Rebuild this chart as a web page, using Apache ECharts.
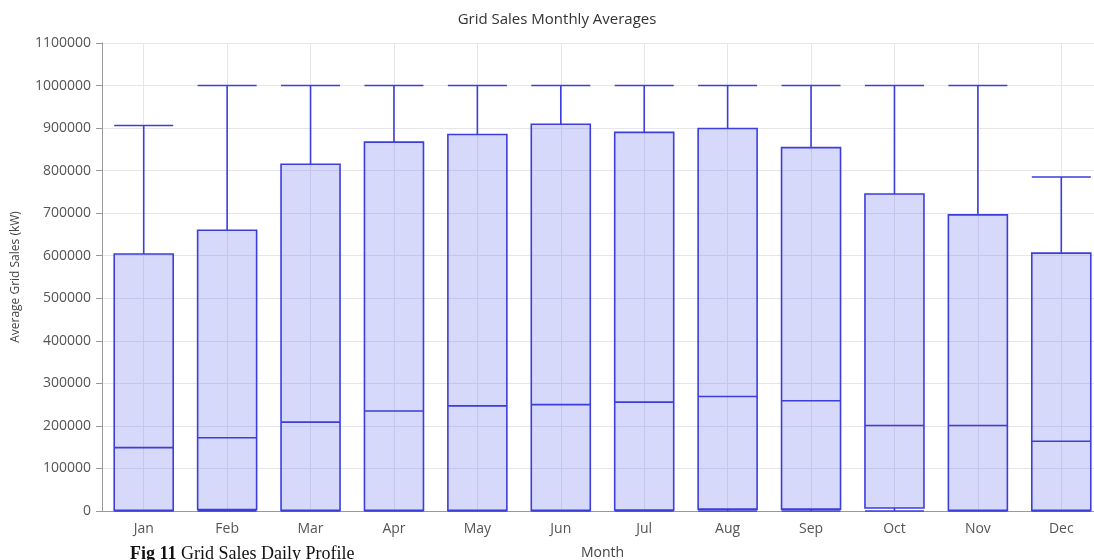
<!DOCTYPE html>
<html>
<head>
<meta charset="utf-8">
<script src="https://cdn.jsdelivr.net/npm/echarts@6/dist/echarts.min.js"></script>
<style>
    html, body { margin: 0; padding: 0; background: #fff; }
    #chart { width: 1094px; height: 560px; }
</style>
</head>
<body>
<div id="chart"></div>
<script>
// 月份
var months = ['Jan', 'Feb', 'Mar', 'Apr', 'May', 'Jun', 'Jul', 'Aug', 'Sep', 'Oct', 'Nov', 'Dec'];
// 箱线数据 [min, Q1, median, Q3, max]
var lows    = [0, 0, 0, 0, 0, 0, 0, 0, 0, 0, 0, 0];
var q1s     = [1500, 3500, 1500, 1500, 1500, 1500, 2500, 4500, 4500, 7000, 1500, 1500];
var medians = [149000, 172000, 209000, 235000, 247000, 250000, 256000, 269000, 259000, 201000, 201000, 164000];
var q3s     = [604000, 660000, 815000, 867000, 885000, 909000, 890000, 899000, 854000, 745000, 696000, 606000];
var highs   = [906000, 1000000, 1000000, 1000000, 1000000, 1000000, 1000000, 1000000, 1000000, 1000000, 1000000, 785000];

var boxData = months.map(function (m, i) {
    return [lows[i], q1s[i], medians[i], q3s[i], highs[i]];
});

var chart = echarts.init(document.getElementById('chart'));
var labelFont = '"Open Sans", "Noto Sans", sans-serif';

var option = {
    backgroundColor: '#ffffff',
    animation: false,
    title: {
        text: 'Grid Sales Monthly Averages',
        left: 552,
        textAlign: 'center',
        top: 7,
        textStyle: {
            fontFamily: labelFont,
            fontSize: 15,
            fontWeight: 'normal',
            color: '#333'
        }
    },
    grid: {
        left: 102,
        width: 1001,
        top: 43,
        height: 468,
        containLabel: false,
        outerBoundsMode: 'none'
    },
    xAxis: {
        type: 'category',
        data: months,
        boundaryGap: true,
        name: 'Month',
        nameLocation: 'middle',
        nameGap: 35,
        nameTextStyle: { fontFamily: labelFont, fontSize: 14, color: '#444' },
        axisLine: { lineStyle: { color: '#999' } },
        axisTick: { alignWithLabel: true, length: 5, lineStyle: { color: '#999' } },
        axisLabel: { fontFamily: labelFont, fontSize: 14, color: '#555', margin: 11 },
        splitLine: { show: true, alignWithLabel: true, lineStyle: { color: '#e6e6ea' } }
    },
    yAxis: {
        type: 'value',
        min: 0,
        max: 1100000,
        interval: 100000,
        name: 'Average Grid Sales (kW)',
        nameLocation: 'middle',
        nameGap: 80,
        nameTextStyle: { fontFamily: labelFont, fontSize: 12, color: '#444' },
        axisLine: { show: true, lineStyle: { color: '#999' } },
        axisTick: { show: true, length: 6, lineStyle: { color: '#999' } },
        axisLabel: {
            fontFamily: labelFont, fontSize: 14, color: '#555', margin: 11,
            formatter: function (v) { return String(v); }
        },
        splitLine: { show: true, lineStyle: { color: '#e6e6ea' } }
    },
    graphic: [
        {
            type: 'text',
            left: 130,
            top: 545,
            style: {
                text: '{b|Fig 11} Grid Sales Daily Profile',
                rich: {
                    b: { fontWeight: 'bold', fontFamily: '"Liberation Serif", "DejaVu Serif", serif', fontSize: 18, fill: '#111' }
                },
                fontFamily: '"Liberation Serif", "DejaVu Serif", serif',
                fontSize: 18,
                fill: '#111'
            }
        }
    ],
    series: [
        {
            type: 'boxplot',
            data: boxData,
            boxWidth: [59, 59],
            itemStyle: {
                color: 'rgba(100,108,240,0.26)',
                borderColor: '#3d3ddc',
                borderWidth: 1.6
            },
            emphasis: { disabled: true }
        }
    ]
};

chart.setOption(option);
</script>
</body>
</html>
